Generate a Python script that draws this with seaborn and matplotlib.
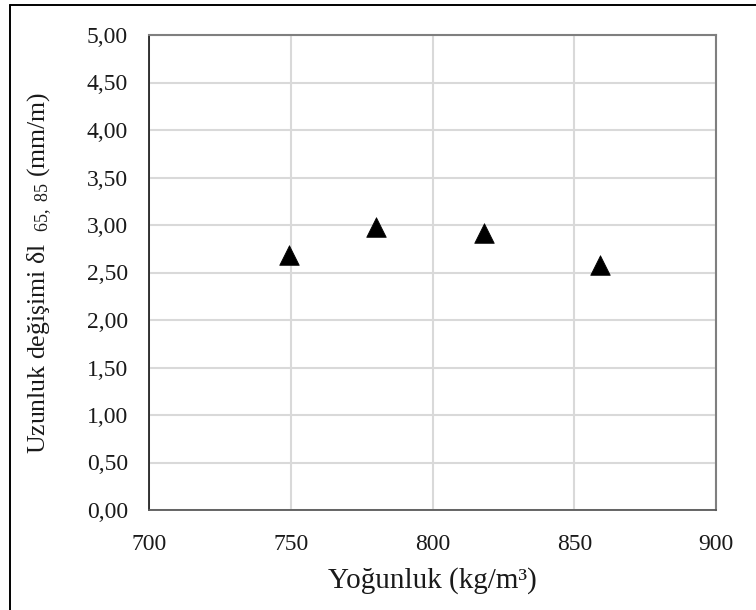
import matplotlib
matplotlib.use("Agg")
import matplotlib.pyplot as plt
from matplotlib.lines import Line2D
from matplotlib.ticker import FuncFormatter
import seaborn as sns
import pandas as pd

# Data
density = [749.5, 780.0, 818.0, 859.0]
length_change = [2.68, 2.98, 2.92, 2.58]
x_ticks = [700, 750, 800, 850, 900]
y_ticks = [0.0, 0.5, 1.0, 1.5, 2.0, 2.5, 3.0, 3.5, 4.0, 4.5, 5.0]
x_label = "Yoğunluk (kg/m³)"
y_label = r"Uzunluk değişimi δl  $_{\mathrm{65,\ 85}}$ (mm/m)"

sns.set_style("white")
plt.rcParams["font.family"] = ["Liberation Serif", "DejaVu Serif"]
plt.rcParams["mathtext.fontset"] = "custom"
plt.rcParams["mathtext.rm"] = "Liberation Serif"
plt.rcParams["mathtext.it"] = "Liberation Serif:italic"

df = pd.DataFrame({"x": density, "y": length_change})

fig = plt.figure(figsize=(7.56, 6.10), dpi=100)
ax = fig.add_axes([149 / 756, 1 - 510 / 610, (716 - 149) / 756, (510 - 35) / 610])

sns.scatterplot(data=df, x="x", y="y", marker="^", s=200, color="black",
                edgecolor="black", linewidth=0.5, ax=ax, zorder=5, legend=False)

ax.set_xlim(700, 900)
ax.set_ylim(0, 5)
ax.set_xticks(x_ticks)
ax.set_yticks(y_ticks)
ax.yaxis.set_major_formatter(FuncFormatter(lambda v, p: f"{v:.2f}".replace(".", ",")))
ax.xaxis.set_major_formatter(FuncFormatter(lambda v, p: f"{v:.0f}"))

ax.grid(True, color="#d9d9d9", linewidth=1.5)
ax.set_axisbelow(True)

ax.spines["left"].set_color("black")
ax.spines["left"].set_linewidth(1.1)
ax.spines["bottom"].set_color("#595959")
ax.spines["bottom"].set_linewidth(1.3)
for s in ("top", "right"):
    ax.spines[s].set_color("#7f7f7f")
    ax.spines[s].set_linewidth(1.5)

ax.tick_params(axis="both", direction="out", length=6, width=1.0, color="#595959",
               labelsize=17, labelcolor="#1a1a1a")
ax.tick_params(axis="x", pad=11)
ax.tick_params(axis="y", pad=9)

ax.set_xlabel(x_label, fontsize=21, color="#1a1a1a", labelpad=9)
ax.set_ylabel(y_label, fontsize=18.5, color="#1a1a1a", labelpad=24)

# outer frame (top and left)
fig.add_artist(Line2D([10 / 756, 10 / 756], [0, 1 - 5 / 610], transform=fig.transFigure,
                      color="black", linewidth=1.4))
fig.add_artist(Line2D([10 / 756, 1], [1 - 5 / 610, 1 - 5 / 610], transform=fig.transFigure,
                      color="black", linewidth=1.4))

fig.savefig("out.png", dpi=100)
